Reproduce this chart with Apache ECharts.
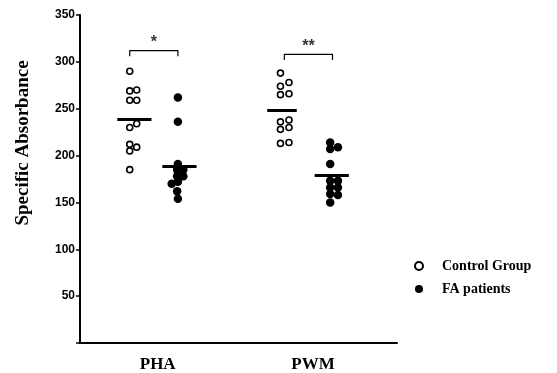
<!DOCTYPE html>
<html>
<head>
<meta charset="utf-8">
<script src="https://cdn.jsdelivr.net/npm/echarts@6/dist/echarts.min.js"></script>
<style>
  html, body { margin: 0; padding: 0; background: #fff; }
  #chart { width: 557px; height: 373px; }
</style>
</head>
<body>
<div id="chart"></div>
<script>
const categories = ["PHA", "PWM"];
const categoryX = [1, 3];
const yTicks = [50, 100, 150, 200, 250, 300, 350];

// values, one per subject
const phaControl = [290, 269, 270, 259, 259, 230, 234, 212, 209, 205, 185];
const phaControlX = [0.64, 0.64, 0.73, 0.64, 0.73, 0.64, 0.73, 0.64, 0.73, 0.64, 0.64];
const phaFA = [262, 236, 191, 185, 185, 178, 178, 172, 170, 162, 154];
const phaFAX = [1.26, 1.26, 1.26, 1.25, 1.33, 1.25, 1.33, 1.26, 1.18, 1.25, 1.26];

const pwmControl = [288, 274, 278, 265, 266, 236, 228, 238, 230, 213, 214];
const pwmControlX = [2.58, 2.58, 2.69, 2.58, 2.69, 2.58, 2.58, 2.69, 2.69, 2.58, 2.69];
const pwmFA = [214, 207, 209, 191, 173, 173, 166, 166, 159, 158, 150];
const pwmFAX = [3.22, 3.22, 3.32, 3.22, 3.22, 3.32, 3.22, 3.32, 3.22, 3.32, 3.22];

// significance: [left x, right x, bracket y, label]
const sigPHA = [0.64, 1.26, 312, "*"];
const sigPWM = [2.63, 3.25, 308, "**"];

const pair = (xs, ys) => ys.map((v, i) => [xs[i], v]);
const mean = arr => arr.reduce((a, b) => a + b, 0) / arr.length;

const serif = "'Liberation Serif', 'Times New Roman', serif";

function meanLine(center, halfW, values) {
  const m = mean(values);
  return {
    type: "line",
    data: [[center - halfW, m], [center + halfW, m]],
    symbol: "none",
    lineStyle: { color: "#000", width: 3, opacity: 1 },
    silent: true,
    z: 5,
  };
}

function bracket(sig) {
  const [a, b, y, label] = sig;
  return [
    {
      type: "line",
      data: [[a, y - 6], [a, y], [b, y], [b, y - 6]],
      symbol: "none",
      lineStyle: { color: "#000", width: 1.2 },
      silent: true,
    },
    {
      type: "scatter",
      data: [[(a + b) / 2, y]],
      symbolSize: 0,
      label: {
        show: true,
        formatter: label,
        position: "top",
        distance: 0,
        color: "#000",
        fontSize: 16,
        fontWeight: "bold",
        fontFamily: "'Liberation Sans', Arial, sans-serif",
      },
      silent: true,
    },
  ];
}

const chart = echarts.init(document.getElementById("chart"));

const option = {
  animation: false,
  backgroundColor: "#fff",
  grid: { left: 80, right: 160, top: 15, bottom: 28 },
  legend: {
    data: ["Control Group", "FA patients"],
    orient: "vertical",
    left: 409,
    top: 254,
    itemWidth: 8,
    itemHeight: 8,
    itemGap: 9,
    textStyle: {
      color: "#000",
      fontSize: 14,
      fontWeight: "bold",
      fontFamily: serif,
      padding: [0, 0, 0, 14],
    },
  },
  xAxis: {
    type: "value",
    min: 0,
    max: 4.08,
    interval: 1,
    axisLine: { show: true, onZero: false, lineStyle: { color: "#000", width: 2 } },
    axisTick: { show: false },
    splitLine: { show: false },
    axisLabel: {
      color: "#000",
      fontSize: 17,
      fontWeight: "bold",
      fontFamily: serif,
      margin: 13,
      formatter: v => {
        const i = categoryX.indexOf(v);
        return i >= 0 ? categories[i] : "";
      },
    },
  },
  yAxis: {
    type: "value",
    min: 0,
    max: yTicks[yTicks.length - 1],
    interval: 50,
    axisLine: { show: true, lineStyle: { color: "#000", width: 2 } },
    axisTick: { show: true, length: 4, lineStyle: { color: "#000", width: 1.5 } },
    splitLine: { show: false },
    axisLabel: {
      color: "#000",
      fontSize: 12,
      fontWeight: "bold",
      fontFamily: "'Liberation Sans Narrow', 'Liberation Sans', Arial, sans-serif",
      margin: 5,
      formatter: v => (yTicks.includes(v) ? String(v) : ""),
    },
  },
  graphic: [{
    type: "text",
    x: 23,
    y: 143,
    rotation: Math.PI / 2,
    style: {
      text: "Specific Absorbance",
      fill: "#000",
      font: "bold 19px " + serif,
      align: "center",
      verticalAlign: "middle",
    },
  }],
  series: [
    {
      name: "Control Group",
      type: "scatter",
      data: pair(phaControlX, phaControl).concat(pair(pwmControlX, pwmControl)),
      symbol: "circle",
      symbolSize: 6,
      itemStyle: { color: "#fff", borderColor: "#000", borderWidth: 1.6, opacity: 1 },
      z: 4,
    },
    {
      name: "FA patients",
      type: "scatter",
      data: pair(phaFAX, phaFA).concat(pair(pwmFAX, pwmFA)),
      symbol: "circle",
      symbolSize: 8.5,
      itemStyle: { color: "#000", opacity: 1 },
      z: 4,
    },
    meanLine(0.70, 0.22, phaControl),
    meanLine(1.28, 0.22, phaFA),
    meanLine(2.60, 0.19, pwmControl),
    meanLine(3.24, 0.22, pwmFA),
    ...bracket(sigPHA),
    ...bracket(sigPWM),
  ],
};

chart.setOption(option);
</script>
</body>
</html>
